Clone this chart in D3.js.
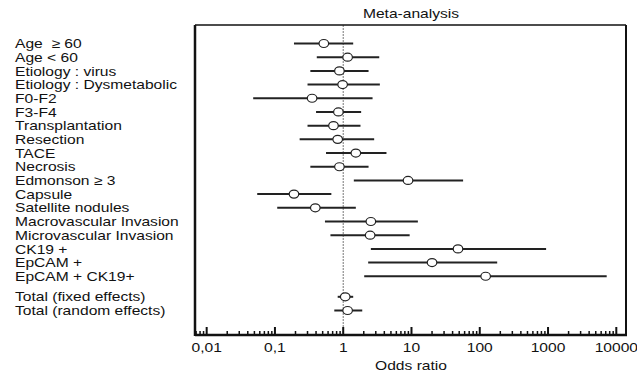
<!DOCTYPE html>
<html>
<head>
<meta charset="utf-8">
<script src="https://cdn.jsdelivr.net/npm/d3@7"></script>
<style>
  body { margin: 0; background: #fff; }
  text { font-family: "Liberation Sans", Arial, sans-serif; fill: #111; font-size: 13px; white-space: pre; }
</style>
</head>
<body>
<div id="chart"></div>
<script>
// rows of the forest plot
const labels = [
  'Age  \u2265 60', 'Age < 60', 'Etiology : virus', 'Etiology : Dysmetabolic',
  'F0-F2', 'F3-F4', 'Transplantation', 'Resection', 'TACE', 'Necrosis',
  'Edmonson \u2265 3', 'Capsule', 'Satellite nodules', 'Macrovascular Invasion',
  'Microvascular Invasion', 'CK19 +', 'EpCAM +', 'EpCAM + CK19+',
  'Total (fixed effects)', 'Total (random effects)'
];
const oddsRatio = [0.52, 1.16, 0.88, 0.98, 0.35, 0.85, 0.72, 0.83, 1.53, 0.88,
  8.9, 0.19, 0.39, 2.54, 2.48, 48, 20, 122, 1.07, 1.16];
const lowerCI = [0.19, 0.41, 0.33, 0.30, 0.048, 0.40, 0.30, 0.23, 0.56, 0.33,
  1.43, 0.055, 0.108, 0.54, 0.65, 2.54, 2.32, 2.03, 0.83, 0.74];
const upperCI = [1.40, 3.37, 2.35, 3.44, 2.69, 1.83, 1.79, 2.84, 4.30, 2.35,
  57, 0.67, 1.53, 12.4, 9.4, 937, 180, 7230, 1.40, 1.90];
// row slot positions (the totals sit after a small gap)
const rowSlot = [0, 1, 2, 3, 4, 5, 6, 7, 8, 9, 10, 11, 12, 13, 14, 15, 16, 17, 18.5, 19.5];
const tickValues = [0.01, 0.1, 1, 10, 100, 1000, 10000];
const tickLabels = ['0,01', '0,1', '1', '10', '100', '1000', '10000'];

const width = 637, height = 375;
const plot = {left: 195, right: 626, top: 25, bottom: 335};
const stretch = 1.2; // the source text is a bit wider than it is tall

const svg = d3.select('#chart').append('svg')
  .attr('width', width)
  .attr('height', height);

const x = d3.scaleLog()
  .domain([Math.pow(10, -2.171), Math.pow(10, 4.142)])
  .range([plot.left, plot.right]);

const y = d3.scaleLinear()
  .domain([0, 19.5])
  .range([43.5, 310.5]);

const place = (px, py) => `translate(${px},${py}) scale(${stretch},1)`;

// title
svg.append('text')
  .attr('transform', place(411, 17.5))
  .attr('text-anchor', 'middle')
  .text('Meta-analysis');

// reference line at OR = 1
svg.append('line')
  .attr('x1', x(1)).attr('x2', x(1))
  .attr('y1', plot.top).attr('y2', plot.bottom)
  .attr('stroke', '#777')
  .attr('stroke-width', 1)
  .attr('stroke-dasharray', '2,1');

// confidence intervals
const rows = labels.map((l, i) => ({label: l, or: oddsRatio[i], lo: lowerCI[i], hi: upperCI[i], slot: rowSlot[i]}));

svg.selectAll('.ci')
  .data(rows)
  .join('line')
  .attr('class', 'ci')
  .attr('x1', d => x(d.lo))
  .attr('x2', d => x(d.hi))
  .attr('y1', d => y(d.slot))
  .attr('y2', d => y(d.slot))
  .attr('stroke', '#222')
  .attr('stroke-width', 2);

svg.selectAll('.pt')
  .data(rows)
  .join('ellipse')
  .attr('class', 'pt')
  .attr('cx', d => x(d.or))
  .attr('cy', d => y(d.slot))
  .attr('rx', 4.8)
  .attr('ry', 4)
  .attr('fill', '#fff')
  .attr('stroke', '#222')
  .attr('stroke-width', 1.2);

// row labels
svg.selectAll('.lbl')
  .data(rows)
  .join('text')
  .attr('class', 'lbl')
  .attr('transform', d => place(15, y(d.slot)))
  .attr('dy', '0.36em')
  .text(d => d.label);

// frame
svg.append('line').attr('x1', plot.left).attr('x2', plot.right).attr('y1', plot.top).attr('y2', plot.top)
  .attr('stroke', '#111').attr('stroke-width', 1.5);
svg.append('line').attr('x1', plot.right).attr('x2', plot.right).attr('y1', plot.top).attr('y2', plot.bottom)
  .attr('stroke', '#111').attr('stroke-width', 2);
svg.append('line').attr('x1', plot.left).attr('x2', plot.left).attr('y1', plot.top).attr('y2', plot.bottom + 1)
  .attr('stroke', '#111').attr('stroke-width', 2.5);

// bottom axis, ticks pointing up into the plot
const minorTicks = x.ticks().filter(v => !tickValues.includes(v));
const axisG = svg.append('g').attr('transform', `translate(0,${plot.bottom})`);
axisG.append('line').attr('x1', plot.left).attr('x2', plot.right + 1)
  .attr('stroke', '#111').attr('stroke-width', 2.5);
axisG.selectAll('.minor')
  .data(minorTicks)
  .join('line')
  .attr('class', 'minor')
  .attr('x1', d => x(d)).attr('x2', d => x(d))
  .attr('y1', 0).attr('y2', -4)
  .attr('stroke', '#111').attr('stroke-width', 1.5);
axisG.selectAll('.major')
  .data(tickValues)
  .join('line')
  .attr('class', 'major')
  .attr('x1', d => x(d)).attr('x2', d => x(d))
  .attr('y1', 0).attr('y2', -8)
  .attr('stroke', '#111').attr('stroke-width', 2);
axisG.selectAll('.tl')
  .data(tickValues)
  .join('text')
  .attr('class', 'tl')
  .attr('transform', d => place(x(d), 17))
  .attr('text-anchor', 'middle')
  .text((d, i) => tickLabels[i]);

svg.append('text')
  .attr('transform', place(411, 370))
  .attr('text-anchor', 'middle')
  .text('Odds ratio');
</script>
</body>
</html>
